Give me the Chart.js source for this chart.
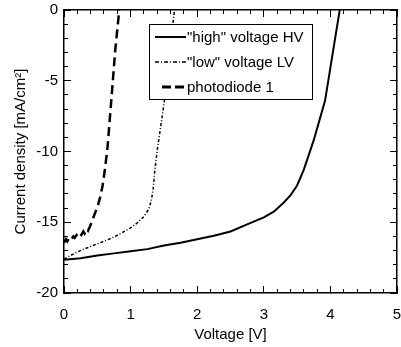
<!DOCTYPE html>
<html>
<head>
<meta charset="utf-8">
<script src="https://cdn.jsdelivr.net/npm/chart.js@4.4.0/dist/chart.umd.min.js"></script>
<style>
  html, body { margin: 0; padding: 0; background: #fff; }
  #chart { display: block; }
</style>
</head>
<body>
<canvas id="chart" width="401" height="347"></canvas>
<script>
// series names, as in the legend
const seriesNames = ['"high" voltage HV', '"low" voltage LV', 'photodiode 1'];

// "high" voltage HV (solid)
const voltageHV = [0, 0.25, 0.5, 0.75, 1.0, 1.25, 1.5, 1.75, 2.0, 2.25, 2.5, 2.75, 3.0, 3.15, 3.3, 3.4, 3.5, 3.6, 3.75, 3.92, 4.04, 4.14];
const currentHV = [-17.65, -17.55, -17.35, -17.2, -17.05, -16.9, -16.65, -16.45, -16.2, -15.95, -15.65, -15.15, -14.65, -14.25, -13.6, -13.1, -12.4, -11.3, -9.2, -6.4, -2.9, 0];

// "low" voltage LV (dash-dot)
const voltageLV = [0, 0.1, 0.2, 0.35, 0.54, 0.7, 0.85, 1.0, 1.1, 1.2, 1.27, 1.31, 1.34, 1.36, 1.4, 1.45, 1.49, 1.53, 1.57, 1.61, 1.66];
const currentLV = [-17.6, -17.35, -17.1, -16.8, -16.45, -16.15, -15.8, -15.4, -15.05, -14.6, -14.1, -13.5, -12.6, -11.5, -9.9, -8.3, -7.0, -5.6, -4.0, -2.0, 0];

// photodiode 1 (dashed, noisy at low voltage)
const voltagePD = [0, 0.03, 0.05, 0.08, 0.11, 0.14, 0.16, 0.19, 0.21, 0.24, 0.26, 0.29, 0.31, 0.34, 0.36, 0.39, 0.43, 0.47, 0.51, 0.55, 0.58, 0.61, 0.65, 0.71, 0.77, 0.83];
const currentPD = [-16.45, -16.2, -16.35, -16.1, -16.2, -16.0, -16.1, -15.9, -16.0, -15.8, -15.9, -15.65, -15.8, -15.5, -15.6, -15.3, -14.8, -14.3, -13.8, -13.1, -12.4, -11.4, -9.9, -6.4, -2.8, 0];

// axis ticks
const xTicks = [0, 1, 2, 3, 4, 5];
const yTicks = [-20, -15, -10, -5, 0];
const xMajorStep = 1, xMinorStep = 0.2;
const yMajorStep = 5, yMinorStep = 1;

const FONT = 'Arial, "Liberation Sans", sans-serif';
const tickFont = { family: FONT, size: 15 };

const xMin = xTicks[0], xMax = xTicks[xTicks.length - 1];
const yMin = yTicks[0], yMax = yTicks[yTicks.length - 1];

function toPoints(xs, ys) {
  return xs.map((x, i) => ({ x: x, y: ys[i] }));
}

// pin an axis box to a fixed thickness so the plot area lands where it should
function fixSize(size) {
  return function (scale) {
    if (scale.isHorizontal()) scale.height = size;
    else scale.width = size;
    scale.paddingLeft = 0;
    scale.paddingRight = 0;
    scale.paddingTop = 0;
    scale.paddingBottom = 0;
  };
}

// an unlabeled axis that only draws inward tick marks (and optionally the frame line)
function tickAxis(position, min, max, step, length, withBorder, weight) {
  return {
    type: 'linear',
    position: position,
    min: min,
    max: max,
    weight: weight,
    border: { display: withBorder, color: '#000', width: 1.5 },
    grid: { display: true, drawOnChartArea: false, drawTicks: true, tickLength: -length, tickColor: '#000', tickWidth: 1 },
    ticks: { display: false, stepSize: step, maxTicksLimit: 100, autoSkip: false },
    afterFit: fixSize(0)
  };
}

// boxed legend inside the plot, using each dataset's own line style
const legendBox = {
  id: 'legendBox',
  afterDraw(chart) {
    const ctx = chart.ctx;
    const lx = 149, ly = 24, lw = 163, lh = 75;
    ctx.save();
    ctx.fillStyle = '#fff';
    ctx.fillRect(lx, ly, lw, lh);
    ctx.strokeStyle = '#000';
    ctx.lineWidth = 1;
    ctx.strokeRect(lx + 0.5, ly + 0.5, lw, lh);
    chart.data.datasets.forEach((ds, i) => {
      const y = ly + 13 + i * 25;
      ctx.beginPath();
      ctx.setLineDash(ds.legendDash || ds.borderDash || []);
      ctx.lineWidth = ds.legendWidth || ds.borderWidth;
      ctx.moveTo(ds.legendStart || 155, y);
      ctx.lineTo(186, y);
      ctx.stroke();
      ctx.setLineDash([]);
      ctx.fillStyle = '#000';
      ctx.font = '15px ' + FONT;
      ctx.textBaseline = 'middle';
      ctx.fillText(ds.label, 187, y + 1);
    });
    ctx.restore();
  }
};

new Chart(document.getElementById('chart'), {
  type: 'scatter',
  data: {
    datasets: [
      {
        label: seriesNames[0],
        data: toPoints(voltageHV, currentHV),
        xAxisID: 'x',
        yAxisID: 'y',
        showLine: true,
        borderColor: '#000',
        borderWidth: 2,
        pointRadius: 0
      },
      {
        label: seriesNames[1],
        data: toPoints(voltageLV, currentLV),
        xAxisID: 'x',
        yAxisID: 'y',
        showLine: true,
        borderColor: '#000',
        borderWidth: 1.5,
        borderDash: [3, 2, 1, 2],
        legendDash: [4, 2, 1, 2],
        pointRadius: 0
      },
      {
        label: seriesNames[2],
        data: toPoints(voltagePD, currentPD),
        xAxisID: 'x',
        yAxisID: 'y',
        showLine: true,
        borderColor: '#000',
        borderWidth: 2.5,
        borderDash: [9, 5],
        legendDash: [9, 4],
        legendWidth: 3,
        legendStart: 162,
        pointRadius: 0
      }
    ]
  },
  options: {
    responsive: false,
    animation: false,
    layout: { autoPadding: false, padding: { top: 10, right: 4, left: 0, bottom: 0 } },
    plugins: {
      legend: { display: false },
      tooltip: { enabled: false }
    },
    scales: {
      x: {
        type: 'linear',
        position: 'bottom',
        min: xMin,
        max: xMax,
        weight: 1,
        border: { display: true, color: '#000', width: 1.5 },
        grid: { display: true, drawOnChartArea: false, drawTicks: true, tickLength: -7, tickColor: '#000', tickWidth: 1 },
        ticks: { stepSize: xMajorStep, color: '#000', font: tickFont, padding: 20, maxRotation: 0 },
        title: { display: true, text: 'Voltage [V]', color: '#000', font: tickFont, padding: 3 },
        afterFit: fixSize(54)
      },
      y: {
        type: 'linear',
        position: 'left',
        min: yMin,
        max: yMax,
        weight: 1,
        border: { display: true, color: '#000', width: 1.5 },
        grid: { display: true, drawOnChartArea: false, drawTicks: true, tickLength: -7, tickColor: '#000', tickWidth: 1 },
        ticks: { stepSize: yMajorStep, color: '#000', font: tickFont, padding: 13 },
        title: { display: true, text: 'Current density [mA/cm²]', color: '#000', font: tickFont, padding: 12 },
        afterFit: fixSize(64)
      },
      xMinor: tickAxis('bottom', xMin, xMax, xMinorStep, 4, false, 0),
      xTop: tickAxis('top', xMin, xMax, xMajorStep, 7, true, 1),
      xTopMinor: tickAxis('top', xMin, xMax, xMinorStep, 4, false, 0),
      yMinor: tickAxis('left', yMin, yMax, yMinorStep, 4, false, 0),
      yRight: tickAxis('right', yMin, yMax, yMajorStep, 7, true, 1),
      yRightMinor: tickAxis('right', yMin, yMax, yMinorStep, 4, false, 0)
    }
  },
  plugins: [legendBox]
});
</script>
</body>
</html>
